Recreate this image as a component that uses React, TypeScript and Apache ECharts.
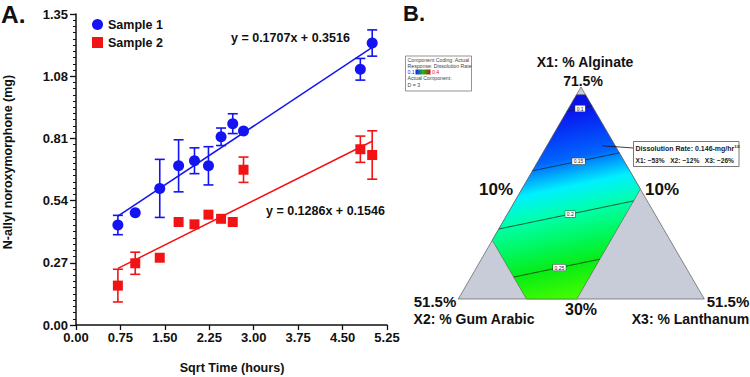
import React, { useEffect, useRef } from "react";
import * as echarts from "echarts";

// ---- Panel A: release data (sqrt of time in hours vs. mg released) ----
const sqrtTime1 = [0.707, 1.0, 1.414, 1.732, 2.0, 2.236, 2.449, 2.646, 2.828, 4.8, 5.0];
const sample1Mean = [0.434, 0.487, 0.593, 0.691, 0.713, 0.691, 0.817, 0.874, 0.842, 1.11, 1.224];
const sample1Sd = [0.042, 0, 0.126, 0.113, 0.056, 0.083, 0.038, 0.043, 0, 0.047, 0.057];

const sqrtTime2 = [0.707, 1.0, 1.414, 1.732, 2.0, 2.236, 2.449, 2.646, 2.828, 4.8, 5.0];
const sample2Mean = [0.171, 0.268, 0.292, 0.447, 0.437, 0.479, 0.461, 0.447, 0.674, 0.763, 0.738];
const sample2Sd = [0.071, 0.048, 0, 0, 0, 0, 0, 0, 0.055, 0.057, 0.105];

// linear fits (slope, intercept) and their fitted range
const fit1 = [0.1707, 0.3516];
const fit2 = [0.1286, 0.1546];
const fitRange = [0.707, 5.0];

const seriesNames = ["Sample 1", "Sample 2"];

// ---- Panel B: ternary mixture design (X1 Alginate, X2 Gum Arabic, X3 Lanthanum, %) ----
const componentMin = [30, 10, 10];
const componentSpan = 41.5;
const regionX1 = [70, 70, 51.5, 30, 30, 41.5];
const regionX2 = [11.5, 10, 10, 31.5, 40, 40];
const regionX3 = [10, 11.5, 30, 30, 21.5, 10];
const contourLevels = ["0.1", "0.15", "0.2", "0.25"];
const contourFrom = [
  [66.7, 14.8, 10],
  [55.1, 26.4, 10],
  [43.7, 37.8, 10],
  [34.3, 40, 17.2],
];
const contourTo = [
  [67.8, 10, 13.7],
  [58.6, 10, 22.9],
  [49.2, 12.3, 30],
  [37.8, 23.7, 30],
];
const flagPoint = [60, 12.2, 19.3];
const flagLines = ["Dissolution Rate: 0.146-mg/hr", "X1: ~53%   X2: ~12%   X3: ~26%"];
const legendLines = ["Component Coding: Actual", "Response: Dissolution Rate", "", "Actual Component:", "D = 3"];

const FONT = "'Liberation Sans', Arial, Helvetica, sans-serif";
const BLUE = "#1414f2";
const RED = "#f21414";

// triangle vertices on the page (X1 apex, X2 bottom-left, X3 bottom-right)
const APEX = [581, 87];
const LEFT = [458.3, 299];
const RIGHT = [704.3, 299];

function ternary(c: number[]): number[] {
  const p = c.map((v, i) => (v - componentMin[i]) / componentSpan);
  const s = p[0] + p[1] + p[2];
  return [
    (p[0] * APEX[0] + p[1] * LEFT[0] + p[2] * RIGHT[0]) / s,
    (p[0] * APEX[1] + p[1] * LEFT[1] + p[2] * RIGHT[1]) / s,
  ];
}

function errorBars(xs: number[], ys: number[], sds: number[]) {
  return xs.map((x, i) => [x, ys[i], sds[i]]);
}

function errorBarSeries(name: string, data: number[][], color: string) {
  return {
    type: "custom",
    name: name + " SD",
    data,
    encode: { x: 0, y: 1 },
    z: 2,
    silent: true,
    renderItem: (_p: any, api: any) => {
      const x = api.value(0);
      const y = api.value(1);
      const sd = api.value(2);
      if (!sd) return { type: "group", children: [] };
      const top = api.coord([x, y + sd]);
      const bot = api.coord([x, y - sd]);
      const half = 5;
      const style = { stroke: color, lineWidth: 1.6 };
      return {
        type: "group",
        children: [
          { type: "line", shape: { x1: top[0], y1: top[1], x2: bot[0], y2: bot[1] }, style },
          { type: "line", shape: { x1: top[0] - half, y1: top[1], x2: top[0] + half, y2: top[1] }, style },
          { type: "line", shape: { x1: bot[0] - half, y1: bot[1], x2: bot[0] + half, y2: bot[1] }, style },
        ],
      };
    },
  };
}

function fitLine(fit: number[]) {
  return fitRange.map((x) => [x, fit[0] * x + fit[1]]);
}

function boldText(text: string, x: number, y: number, size: number, align = "center", extra: any = {}) {
  return {
    type: "text",
    x,
    y,
    silent: true,
    ...extra,
    style: {
      text,
      fill: "#111",
      font: `bold ${size}px ${FONT}`,
      textAlign: align,
      textVerticalAlign: "middle",
    },
  };
}

function panelB(): any[] {
  const els: any[] = [];
  // full simplex in grey
  els.push({
    type: "polygon",
    shape: { points: [APEX, LEFT, RIGHT] },
    style: { fill: "#c8ccd8", stroke: "#5a5a5a", lineWidth: 0.7 },
    silent: true,
  });
  // feasible region with the response colour map
  const region = regionX1.map((_, i) => ternary([regionX1[i], regionX2[i], regionX3[i]]));
  els.push({
    type: "polygon",
    shape: { points: region },
    style: {
      fill: {
        type: "linear",
        x: 581,
        y: 94,
        x2: 622,
        y2: 290,
        global: true,
        colorStops: [
          { offset: 0, color: "#0c10d8" },
          { offset: 0.08, color: "#0818f0" },
          { offset: 0.3, color: "#0064ff" },
          { offset: 0.44, color: "#00f0ff" },
          { offset: 0.56, color: "#00ffb0" },
          { offset: 0.7, color: "#00f860" },
          { offset: 0.83, color: "#08ec14" },
          { offset: 1, color: "#48ff00" },
        ],
      },
      stroke: "#5a5a5a",
      lineWidth: 0.6,
    },
    silent: true,
  });
  // contour lines with level tags
  contourLevels.forEach((lvl, i) => {
    const a = ternary(contourFrom[i]);
    const b = ternary(contourTo[i]);
    els.push({
      type: "line",
      shape: { x1: a[0], y1: a[1], x2: b[0], y2: b[1] },
      style: { stroke: "#1a1a1a", lineWidth: 0.7 },
      silent: true,
    });
    const t = 0.53;
    els.push({
      type: "text",
      x: a[0] + (b[0] - a[0]) * t,
      y: a[1] + (b[1] - a[1]) * t,
      silent: true,
      style: {
        text: lvl,
        font: `5px ${FONT}`,
        fill: "#222",
        textAlign: "center",
        textVerticalAlign: "middle",
        backgroundColor: "#ffffff",
        borderColor: "#333",
        borderWidth: 0.5,
        padding: [0.5, 1.5],
      },
    });
  });
  // flag at the selected design point
  const fp = ternary(flagPoint);
  els.push({
    type: "line",
    shape: { x1: fp[0], y1: fp[1], x2: 633.5, y2: 148 },
    style: { stroke: "#111", lineWidth: 0.8 },
    silent: true,
  });
  els.push({
    type: "rect",
    shape: { x: 633.5, y: 141.5, width: 105.5, height: 25 },
    style: { fill: "#fff", stroke: "#555", lineWidth: 0.8 },
    silent: true,
  });
  els.push({
    type: "text",
    x: 635.5,
    y: 148.5,
    silent: true,
    style: {
      text: `{m|${flagLines[0]}}{s|1/2}`,
      textVerticalAlign: "middle",
      rich: {
        m: { font: `bold 7px ${FONT}`, fill: "#222", lineHeight: 9 },
        s: { font: `bold 4px ${FONT}`, fill: "#222", lineHeight: 9, verticalAlign: "top" },
      },
    },
  });
  els.push({
    type: "text",
    x: 635.5,
    y: 160,
    silent: true,
    style: { text: flagLines[1], font: `bold 6.6px ${FONT}`, fill: "#222", textVerticalAlign: "middle" },
  });
  // colour-coding legend box
  els.push({
    type: "rect",
    shape: { x: 405.5, y: 56, width: 66, height: 35 },
    style: { fill: "#fff", stroke: "#666", lineWidth: 0.7 },
    silent: true,
  });
  const lineY = [59.6, 65.8, 72, 78.3, 84.6];
  legendLines.forEach((t, i) => {
    if (!t) return;
    els.push({
      type: "text",
      x: 407.5,
      y: lineY[i],
      silent: true,
      style: { text: t, font: `5.2px ${FONT}`, fill: "#444", textVerticalAlign: "middle" },
    });
  });
  els.push({
    type: "text",
    x: 407.5,
    y: lineY[2],
    silent: true,
    style: { text: "0.1", font: `5.2px ${FONT}`, fill: "#2030ff", textVerticalAlign: "middle" },
  });
  els.push({
    type: "rect",
    shape: { x: 415.5, y: 69.5, width: 15, height: 5 },
    style: {
      fill: {
        type: "linear",
        x: 0,
        y: 0,
        x2: 1,
        y2: 0,
        colorStops: [
          { offset: 0, color: "#1a1aff" },
          { offset: 0.5, color: "#18c018" },
          { offset: 1, color: "#c81010" },
        ],
      },
    },
    silent: true,
  });
  els.push({
    type: "text",
    x: 432,
    y: lineY[2],
    silent: true,
    style: { text: "0.4", font: `5.2px ${FONT}`, fill: "#e02020", textVerticalAlign: "middle" },
  });
  // vertex / edge annotations
  els.push(boldText("X1: % Alginate", 585, 62, 14));
  els.push(boldText("71.5%", 583, 80.5, 14));
  els.push(boldText("10%", 496, 189, 17));
  els.push(boldText("10%", 662, 189, 17));
  els.push(boldText("51.5%", 435, 301, 15));
  els.push(boldText("51.5%", 728, 301, 15));
  els.push(boldText("30%", 581, 309, 16));
  els.push(boldText("X2: % Gum Arabic", 474, 319, 14));
  els.push(boldText("X3: % Lanthanum", 690.5, 319, 14));
  return els;
}

export default function App() {
  const ref = useRef<HTMLDivElement>(null);

  useEffect(() => {
    if (!ref.current) return;
    const chart = echarts.init(ref.current, undefined, { renderer: "svg" });
    const axisText = { color: "#111", fontWeight: "bold", fontSize: 13, fontFamily: FONT };

    chart.setOption({
      animation: false,
      backgroundColor: "#ffffff",
      grid: { left: 76, top: 14, width: 311, height: 311, containLabel: false },
      legend: {
        data: seriesNames,
        orient: "vertical",
        left: 87,
        top: 13,
        itemWidth: 11,
        itemHeight: 11,
        itemGap: 5,
        textStyle: { color: "#111", fontWeight: "bold", fontSize: 12.5, fontFamily: FONT },
      },
      xAxis: {
        type: "value",
        min: 0,
        max: 5.25,
        interval: 0.75,
        splitLine: { show: false },
        axisLine: { lineStyle: { color: "#111", width: 1.5 } },
        axisTick: { length: 5, lineStyle: { color: "#111", width: 1.3 } },
        axisLabel: { ...axisText, margin: 6, formatter: (v: number) => v.toFixed(2) },
      },
      yAxis: {
        type: "value",
        min: 0,
        max: 1.35,
        interval: 0.27,
        splitLine: { show: false },
        axisLine: { show: true, lineStyle: { color: "#111", width: 1.5 } },
        axisTick: { show: true, length: 6, lineStyle: { color: "#111", width: 1.3 } },
        minorTick: { show: true, splitNumber: 10, length: 3, lineStyle: { color: "#111", width: 1 } },
        axisLabel: { ...axisText, margin: 8, formatter: (v: number) => v.toFixed(2) },
      },
      series: [
        {
          type: "line",
          name: "fit 1",
          data: fitLine(fit1),
          showSymbol: false,
          z: 1,
          silent: true,
          lineStyle: { color: BLUE, width: 1.5 },
        },
        {
          type: "line",
          name: "fit 2",
          data: fitLine(fit2),
          showSymbol: false,
          z: 1,
          silent: true,
          lineStyle: { color: RED, width: 1.5 },
        },
        errorBarSeries(seriesNames[0], errorBars(sqrtTime1, sample1Mean, sample1Sd), BLUE),
        errorBarSeries(seriesNames[1], errorBars(sqrtTime2, sample2Mean, sample2Sd), RED),
        {
          type: "scatter",
          name: seriesNames[0],
          data: sqrtTime1.map((x, i) => [x, sample1Mean[i]]),
          symbol: "circle",
          symbolSize: 11,
          z: 3,
          itemStyle: { color: BLUE, opacity: 1 },
        },
        {
          type: "scatter",
          name: seriesNames[1],
          data: sqrtTime2.map((x, i) => [x, sample2Mean[i]]),
          symbol: "rect",
          symbolSize: 10,
          z: 3,
          itemStyle: { color: RED, opacity: 1 },
        },
      ],
      graphic: [
        boldText("A.", 1, 14, 24.5, "left"),
        boldText("B.", 403, 13, 22, "left"),
        boldText("N-allyl noroxymorphone (mg)", 8, 162, 12.5, "center", { rotation: Math.PI / 2 }),
        boldText("Sqrt Time (hours)", 232, 368, 12.6),
        boldText(`y = ${fit1[0].toFixed(4)}x + ${fit1[1].toFixed(4)}`, 231, 37.5, 12.5, "left"),
        boldText(`y = ${fit2[0].toFixed(4)}x + ${fit2[1].toFixed(4)}`, 266, 211, 12.5, "left"),
        ...panelB(),
      ],
    });

    return () => chart.dispose();
  }, []);

  return (
    <div
      ref={ref}
      style={{ position: "fixed", left: 0, top: 0, width: 750, height: 377, background: "#fff" }}
    />
  );
}
